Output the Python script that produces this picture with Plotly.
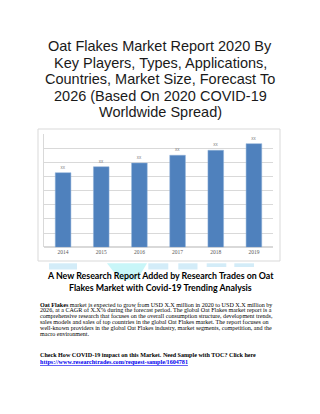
import plotly.graph_objects as go

W, H = 320, 414

years = ["2014", "2015", "2016", "2017", "2018", "2019"]
values = [5.27, 5.69, 5.95, 6.50, 6.85, 7.32]
bar_labels = ["xx", "xx", "xx", "xx", "xx", "xx"]

title_lines = [
    "Oat Flakes Market Report 2020 By",
    "Key Players, Types, Applications,",
    "Countries, Market Size, Forecast To",
    "2026 (Based On 2020 COVID-19",
    "Worldwide Spread)",
]
subtitle_lines = [
    "A New Research Report Added by Research Trades on Oat",
    "Flakes Market with Covid-19 Trending Analysis",
]
body_lines = [
    "<b>Oat Flakes</b> market is expected to grow from USD X.X million in 2020 to USD X.X million by",
    "2026, at a CAGR of X.X% during the forecast period. The global Oat Flakes market report is a",
    "comprehensive research that focuses on the overall consumption structure, development trends,",
    "sales models and sales of top countries in the global Oat Flakes market. The report focuses on",
    "well-known providers in the global Oat Flakes industry, market segments, competition, and the",
    "macro environment.",
]
cta_line = "<b>Check How COVID-19 impact on this Market. Need Sample with TOC? Click here</b>"
url_line = "https://www.researchtrades.com/request-sample/1604781"


def px(x):
    return x / W


def py(y):
    return 1 - y / H


fig = go.Figure()
fig.add_trace(go.Bar(
    x=years, y=values, text=bar_labels, textposition="outside",
    textfont=dict(size=4.5, color="#7f7f7f", family="Liberation Sans"),
    marker=dict(color="#4F81BD", line=dict(color="#8fb0d8", width=0.5)),
    width=0.41, cliponaxis=False,
))

annotations = []
title_y = [46.2, 62.7, 79.2, 95.7, 112.2]
for t, y in zip(title_lines, title_y):
    annotations.append(dict(text=t, x=0.5, y=py(y), xref="paper", yref="paper",
                            xanchor="center", yanchor="middle", showarrow=False,
                            font=dict(family="Liberation Sans", size=14.5, color="#1a1a1a")))
sub_y = [275.8, 287.0]
for t, y in zip(subtitle_lines, sub_y):
    annotations.append(dict(text="<b>" + t + "</b>", x=0.5, y=py(y), xref="paper", yref="paper",
                            xanchor="center", yanchor="middle", showarrow=False,
                            font=dict(family="Lato", size=8.8, color="#000000")))
body_y = [304.5, 310.3, 316.2, 322.0, 327.9, 333.7]
for t, y in zip(body_lines, body_y):
    annotations.append(dict(text=t, x=px(37.5), y=py(y), xref="paper", yref="paper",
                            xanchor="left", yanchor="middle", showarrow=False,
                            font=dict(family="Liberation Serif", size=6.1, color="#000000")))
annotations.append(dict(text=cta_line, x=px(37.5), y=py(355.3), xref="paper", yref="paper",
                        xanchor="left", yanchor="middle", showarrow=False,
                        font=dict(family="Liberation Serif", size=6.1, color="#000000")))
annotations.append(dict(text="<b><u>" + url_line + "</u></b>", x=px(37.5), y=py(361.7),
                        xref="paper", yref="paper", xanchor="left", yanchor="middle",
                        showarrow=False,
                        font=dict(family="Liberation Serif", size=6.1, color="#0000ee")))

shapes = [
    # outer chart frame
    dict(type="rect", xref="paper", yref="paper", x0=px(38), x1=px(280), y0=py(261), y1=py(129),
         line=dict(color="#d9d9d9", width=1), fillcolor="rgba(0,0,0,0)", layer="below"),
]
# faint cyan artifacts under the chart
for (x0, x1, y0, y1) in [(49, 77, 263.3, 269.5), (148.3, 168.3, 263.3, 269.5),
                         (178.3, 197.5, 263.3, 269.5), (206.7, 226.3, 263.3, 267),
                         (234.3, 254, 263.3, 267)]:
    shapes.append(dict(type="rect", xref="paper", yref="paper", x0=px(x0), x1=px(x1),
                       y0=py(y1), y1=py(y0), line=dict(width=0), fillcolor="#d3ecf8",
                       layer="below"))
shapes.append(dict(type="path", xref="paper", yref="paper",
                   path="M {} {} L {} {} L {} {} L {} {} Z".format(
                       px(107), py(263.3), px(147), py(263.3), px(137), py(280), px(120), py(280)),
                   line=dict(width=0), fillcolor="#c8f6f8", layer="below"))

fig.update_layout(
    width=W, height=H, margin=dict(l=0, r=0, t=0, b=0),
    paper_bgcolor="white", plot_bgcolor="white", showlegend=False,
    xaxis=dict(domain=[px(44), px(273)], range=[-0.5, 5.5], showgrid=False, zeroline=False,
               showline=False, ticks="", tickfont=dict(size=5.5, color="#595959",
                                                          family="Liberation Serif")),
    yaxis=dict(domain=[py(247.3), py(134)], range=[0, 8], dtick=1, showgrid=True,
               gridcolor="#d9d9d9", gridwidth=1, zeroline=True, zerolinecolor="#d9d9d9",
               showticklabels=False, showline=True, linecolor="#d9d9d9", ticks=""),
    annotations=annotations, shapes=shapes,
)

fig.write_html("out.html")
